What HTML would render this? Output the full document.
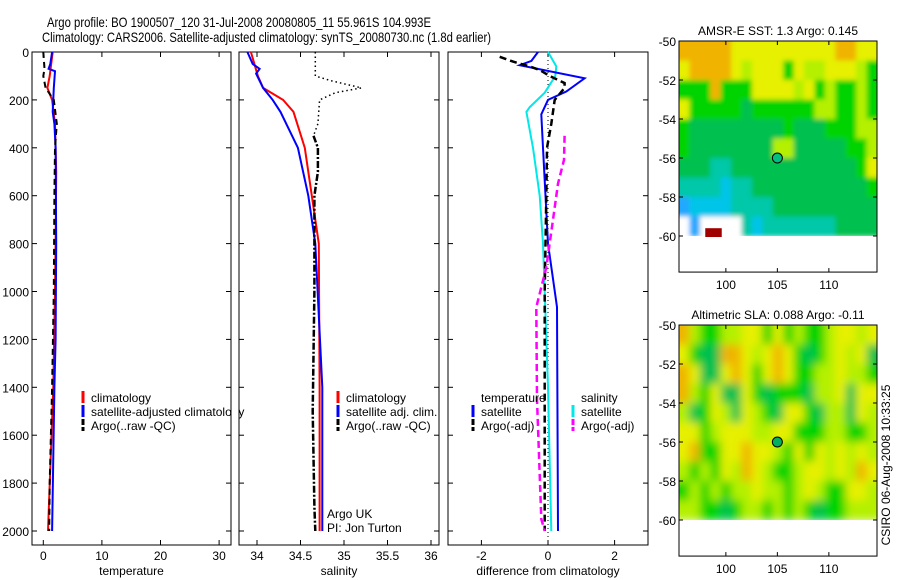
<!DOCTYPE html>
<html><head><meta charset="utf-8"><style>
html,body{margin:0;padding:0;background:#fff;width:900px;height:580px;overflow:hidden}
svg{display:block;font-family:"Liberation Sans",sans-serif}
</style></head><body>
<svg id="fig" width="900" height="580" viewBox="0 0 900 580">
<defs>
<filter id="blurS" x="-5%" y="-5%" width="110%" height="110%"><feGaussianBlur stdDeviation="2.5"/></filter>
<filter id="blurL" x="-5%" y="-5%" width="110%" height="110%"><feGaussianBlur stdDeviation="4.5"/></filter>
</defs>
<text x="47" y="27" font-size="14" textLength="384" lengthAdjust="spacingAndGlyphs">Argo profile: BO 1900507_120 31-Jul-2008 20080805_11 55.961S 104.993E</text>
<text x="42" y="42" font-size="14" textLength="449" lengthAdjust="spacingAndGlyphs">Climatology: CARS2006. Satellite-adjusted climatology: synTS_20080730.nc (1.8d earlier)</text>
<text transform="translate(890,465) rotate(-90)" font-size="12" text-anchor="middle">CSIRO 06-Aug-2008 10:33:25</text>
</svg>
<script>
// ---- data ----
const depthTicks=[0,200,400,600,800,1000,1200,1400,1600,1800,2000];
const tempTicks=[0,10,20,30];
const salTicks=[34,34.5,35,35.5,36];
const diffTicks=[-2,0,2];
const tempClimD=[0,100,150,200,300,500,800,1000,1400,2000];
const tempClimV=[1.6,1.1,0.7,1.5,2.0,2.2,2.1,2.0,1.7,0.8];
const tempSatD=[0,50,70,80,150,250,300,400,800,1200,1400,2000];
const tempSatV=[1.5,1.2,0.9,2.0,1.8,1.6,1.9,2.1,2.2,2.1,1.9,1.5];
const tempArgoD=[0,70,100,150,200,300,400,600,1000,1400,1800,2000];
const tempArgoV=[0.0,0.2,0.0,0.4,1.8,2.3,2.0,1.9,1.8,1.5,1.1,1.0];
const salClimD=[0,100,150,200,250,400,600,800,1400,2000];
const salClimV=[33.93,34.01,34.07,34.30,34.42,34.55,34.63,34.71,34.72,34.72];
const salSatD=[0,50,70,90,150,200,250,400,600,800,1400,2000];
const salSatV=[33.89,33.95,34.03,33.99,34.07,34.18,34.27,34.47,34.59,34.67,34.75,34.75];
const salRawD=[0,100,120,150,170,200,300,350,400];
const salRawV=[34.67,34.67,34.85,35.2,34.9,34.72,34.70,34.65,34.70];
const salArgoD=[350,400,500,600,1000,1500,1900,2000];
const salArgoV=[34.65,34.70,34.70,34.66,34.66,34.64,34.66,34.67];
const dTSatD=[0,37,55,110,165,200,260,400,800,1065,2000];
const dTSatV=[-0.3,-0.5,-0.85,1.1,0.55,0.0,-0.2,-0.15,0.0,0.27,0.3];
const dSSatD=[0,60,100,170,230,250,400,600,800,1000,1400,2000];
const dSSatV=[0,0.25,0.22,-0.1,-0.55,-0.65,-0.45,-0.25,-0.15,-0.1,0,0.1];
const dTArgoD=[20,40,60,75,100,130,150,200,300,400,600,1000,1400,2000];
const dTArgoV=[-1.45,-1.05,-0.55,-0.25,0.05,0.5,0.5,0.2,0.1,-0.03,-0.05,-0.1,-0.1,-0.1];
const dSArgoD=[350,450,550,700,900,1065,1450,1950,2000];
const dSArgoV=[0.5,0.48,0.3,0.15,-0.05,-0.35,-0.33,-0.2,-0.1];
const latTicks=[-50,-52,-54,-56,-58,-60];
const lonTicks=[100,105,110];
const sstRows=["OOOOOYYYYYYYYYYOOYY","YOOOOYLYYYGYLLYYYLG","GGGOGGGYYYYLYGLGGLG","YGGGGGDGGGGGGLLGGLG","GDDDDDDDDDGDDDGGGLL","GDDDDDDDDLLDDDDDGGL","DDDTTDDDDDDDDDDDDGY","TTTTCTTDDDDDDDDDDDG","BCCCCTTTTDDDDDDDDDD","WBWWWWTCTTTTTTTDDDD"];
const slaRows=["OLGGLLYYGYGLGGLYYLY","YGDDOOYLYOYGDGLYLYD","OYDDYOYGYOYGGLLYLLG","OLGYDDYGDGGGDLLYDYY","LDGYLDYLGDYYGDLLDYL","YYGLYYYLLYYGGGLLGGL","YOGGYYOYYLGYGYLYLYL","LGLGYLOYLGGLYYLYLOY","GLGLGLLYLLGLYLGGYYL","LLGGDGLLGLGLGDGGLLL"];
const palette={O:"#f0b400",Y:"#e6f000",L:"#b4f000",G:"#00d400",D:"#00c050",T:"#00c8a8",C:"#00c4e8",B:"#20a8ff",W:"#ffffff"};
// ---- helpers ----
const svg=document.getElementById('fig');const NS="http://www.w3.org/2000/svg";
function mk(tag,at,parent){const e=document.createElementNS(NS,tag);for(const k in at)e.setAttribute(k,at[k]);(parent||svg).appendChild(e);return e;}
const Y0=52,YS=(531-52)/2000,TOP=52,BOT=545;
const dy=d=>Y0+d*YS;
const tx=v=>43.3+v*5.86, sx=v=>257+(v-34)*87, fx=v=>548+v*33.3;
function panel(name,x0,x1,xs,ticks,label,yLabels){
  const r=mk('rect',{x:x0,y:TOP,width:x1-x0,height:BOT-TOP,fill:'none',stroke:'#000','stroke-width':1});
  
  depthTicks.forEach(d=>{const y=dy(d);
    mk('line',{x1:x0,x2:x0+5,y1:y,y2:y,stroke:'#000'});mk('line',{x1:x1-5,x2:x1,y1:y,y2:y,stroke:'#000'});
    if(yLabels){const t=mk('text',{x:x0-3,y:y+5,'font-size':12,'text-anchor':'end'});t.textContent=d;
      }});
  ticks.forEach(v=>{const x=xs(v);mk('line',{x1:x,x2:x,y1:TOP,y2:TOP+5,stroke:'#000'});mk('line',{x1:x,x2:x,y1:BOT-5,y2:BOT,stroke:'#000'});
    const t=mk('text',{x:x,y:560,'font-size':12,'text-anchor':'middle'});t.textContent=v;
    });
  const l=mk('text',{x:(x0+x1)/2,y:575,'font-size':12,'text-anchor':'middle'});l.textContent=label;
  
}
function line(name,D,V,xs,color,w,dash){
  const p=D.map((d,i)=>xs(V[i]).toFixed(1)+','+dy(d).toFixed(1)).join(' ');
  const e=mk('polyline',{points:p,fill:'none',stroke:color,'stroke-width':w});
  if(dash)e.setAttribute('stroke-dasharray',dash);
  
  
}
function legend(name,x,y,color,txt,dash){
  if(color){const b=mk('line',{x1:x,x2:x,y1:y-11,y2:y+1,stroke:color,'stroke-width':3});if(dash)b.setAttribute('stroke-dasharray',dash);}
  const t=mk('text',{x:x+8,y:y,'font-size':12});t.textContent=txt;
  
}
// ---- panels ----
panel('temperature-panel',32,231,tx,tempTicks,'temperature',true);
panel('salinity-panel',239,439,sx,salTicks,'salinity',false);
panel('difference-panel',448,648,fx,diffTicks,'difference from climatology',false);
line('temp-climatology',tempClimD,tempClimV,tx,'#f00',2);
line('temp-satellite',tempSatD,tempSatV,tx,'#00f',2);
line('temp-argo',tempArgoD,tempArgoV,tx,'#000',2,'6,4');
line('sal-argo-raw',salRawD,salRawV,sx,'#000',1.5,'1.5,3');
line('sal-climatology',salClimD,salClimV,sx,'#f00',2);
line('sal-satellite',salSatD,salSatV,sx,'#00f',2);
line('sal-argo',salArgoD,salArgoV,sx,'#000',2.5,'7,2,2,2');
mk('line',{x1:fx(0),x2:fx(0),y1:TOP,y2:BOT,stroke:'#000','stroke-dasharray':'1,3'});
line('diff-sal-satellite',dSSatD,dSSatV,fx,'#00e8e8',2);
line('diff-temp-satellite',dTSatD,dTSatV,fx,'#00f',2);
line('diff-temp-argo',dTArgoD,dTArgoV,fx,'#000',2.5,'7,4');
line('diff-sal-argo',dSArgoD,dSArgoV,fx,'#f0f',2.5,'7,4');
legend('legend-temp-climatology',83,402,'#f00','climatology');
legend('legend-temp-satellite',83,416,'#00f','satellite-adjusted climatology');
legend('legend-temp-argo',83,430,'#000','Argo(..raw -QC)','6,2');
mk('rect',{x:232,y:380,width:6,height:60,fill:'#fff'});
legend('legend-sal-climatology',338,402,'#f00','climatology');
legend('legend-sal-satellite',338,416,'#00f','satellite adj. clim.');
legend('legend-sal-argo',338,430,'#000','Argo(..raw -QC)','6,2');
legend('argo-uk-label',319,518,null,'Argo UK');
legend('pi-label',319,532,null,'PI: Jon Turton');
legend('legend-diff-temp-header',473,402,null,'temperature');
legend('legend-diff-temp-satellite',473,416,'#00f','satellite');
legend('legend-diff-temp-argo',473,430,'#000','Argo(-adj)','6,2');
legend('legend-diff-sal-header',573,402,null,'salinity');
legend('legend-diff-sal-satellite',573,416,'#00e8e8','satellite');
legend('legend-diff-sal-argo',573,430,'#f0f','Argo(-adj)','6,2');
// ---- maps ----
function map(name,top,rows,title,dotColor,red,filt){
  const x0=679,x1=877,lonA=95.45,lonS=10.3,latS=19.5;
  const mx=l=>x0+(l-lonA)*lonS, my=l=>top+(-50-l)*latS;
  const cw=(x1-x0)/19;
  const cp=mk('clipPath',{id:name+'-clip'},svg.querySelector('defs'));
  mk('rect',{x:x0,y:top,width:x1-x0,height:my(-60)-top},cp);
  const outer=mk('g',{'clip-path':'url(#'+name+'-clip)'});
  const g=mk('g',{filter:'url(#'+filt+')'},outer);
  rows.forEach((r,i)=>{for(let j=0;j<r.length;j++){const c=mk('rect',{x:x0+j*cw-(j==0?8:0),y:my(-50-i)-(i==0?8:0),width:cw+0.5+(j==0||j==18?8:0),height:latS+0.5+(i==0?8:0),fill:palette[r[j]]},g);
    }});
  if(red)mk('rect',{x:mx(98),y:my(-59.6),width:mx(99.6)-mx(98),height:my(-60)-my(-59.6)+1,fill:'#a00000'});
  const f=mk('rect',{x:x0,y:top,width:x1-x0,height:my(-61.85)-top,fill:'none',stroke:'#000'});
  
  latTicks.forEach(l=>{const y=my(l);mk('line',{x1:x0,x2:x0+4,y1:y,y2:y,stroke:'#000'});mk('line',{x1:x1-4,x2:x1,y1:y,y2:y,stroke:'#000'});
    const t=mk('text',{x:x0-3,y:y+5,'font-size':12,'text-anchor':'end'});t.textContent=l;
    });
  const yb=my(-61.85);
  lonTicks.forEach(l=>{const x=mx(l);mk('line',{x1:x,x2:x,y1:top,y2:top+4,stroke:'#000'});mk('line',{x1:x,x2:x,y1:yb-4,y2:yb,stroke:'#000'});
    const t=mk('text',{x:x,y:yb+17,'font-size':12,'text-anchor':'middle'});t.textContent=l;
    });
  const t=mk('text',{x:(x0+x1)/2,y:top-6,'font-size':12,'text-anchor':'middle'});t.textContent=title;
  
  const c=mk('circle',{cx:mx(105),cy:my(-56),r:5,fill:dotColor,stroke:'#000'});
  
}
map('sst-map',41,sstRows,'AMSR-E SST: 1.3 Argo: 0.145','#00c080',true,'blurS');
map('sla-map',325,slaRows,'Altimetric SLA: 0.088 Argo: -0.11','#00b060',false,'blurL');
</script>
</body></html>
